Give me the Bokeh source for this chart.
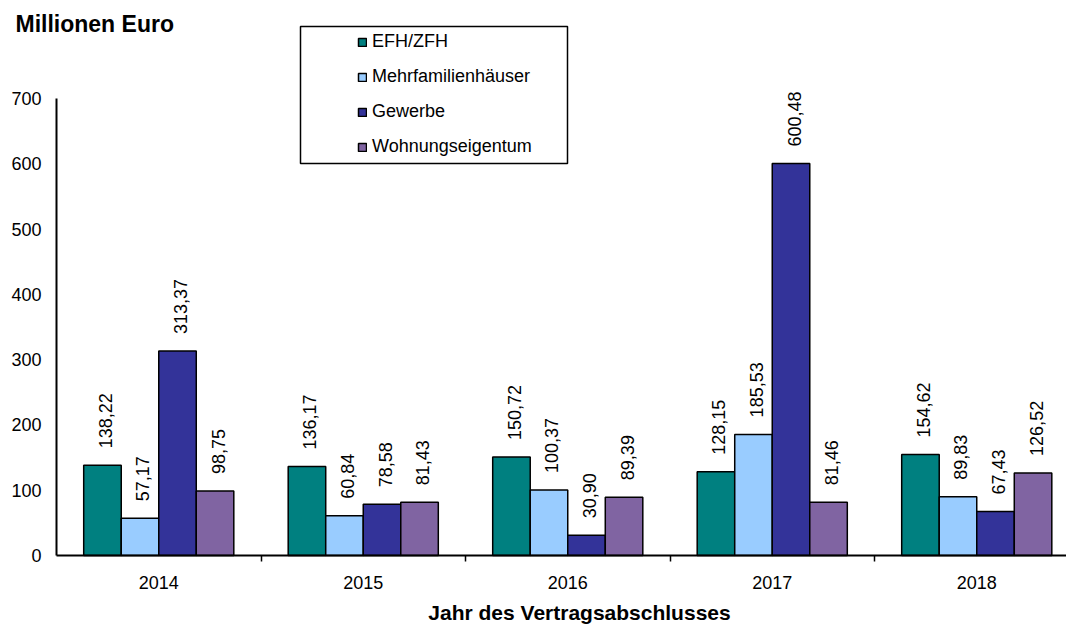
import math
from bokeh.plotting import figure
from bokeh.models import (ColumnDataSource, FixedTicker, LabelSet, Label, Legend,
                          LegendItem, BoxAnnotation, Range1d)
from bokeh.core.properties import value
from bokeh.embed import file_html
from bokeh.resources import INLINE

years = ["2014", "2015", "2016", "2017", "2018"]
series_names = ["EFH/ZFH", "Mehrfamilienhäuser", "Gewerbe", "Wohnungseigentum"]
efh_zfh = [138.22, 136.17, 150.72, 128.15, 154.62]
mehrfamilienhaeuser = [57.17, 60.84, 100.37, 185.53, 89.83]
gewerbe = [313.37, 78.58, 30.90, 600.48, 67.43]
wohnungseigentum = [98.75, 81.43, 89.39, 81.46, 126.52]
y_ticks = [0, 100, 200, 300, 400, 500, 600, 700]

series_values = [efh_zfh, mehrfamilienhaeuser, gewerbe, wohnungseigentum]
colors = ["#008080", "#99CCFF", "#333399", "#8064A2"]
FONT = "Liberation Sans"

W, H = 1066, 626
x0_px, cat_px = 56.0, 204.5          # pixel position of category boundary 0, category width
y0_px, px_per_unit = 555.0, 457.0 / 700.0
x_end = (W - x0_px) / cat_px

p = figure(width=W, height=H, output_backend="svg", toolbar_location=None, title=None,
           x_range=Range1d(-x0_px / cat_px, x_end),
           y_range=Range1d(-(H - y0_px) / px_per_unit, y0_px / px_per_unit),
           min_border=0, min_border_left=0, min_border_right=0,
           min_border_top=0, min_border_bottom=0)
p.outline_line_color = None
p.xgrid.grid_line_color = None
p.ygrid.grid_line_color = None
p.background_fill_color = "white"
p.border_fill_color = "white"

bar_w = 0.1835
offsets = [-1.5 * bar_w, -0.5 * bar_w, 0.5 * bar_w, 1.5 * bar_w]
centers = [i + 0.5 for i in range(len(years))]

renderers = []
for name, vals, col, off in zip(series_names, series_values, colors, offsets):
    src = ColumnDataSource(dict(
        x=[c + off for c in centers],
        top=vals,
        label=[f"{v:.2f}".replace(".", ",") for v in vals],
    ))
    r = p.vbar(x="x", top="top", width=bar_w, source=src, fill_color=col,
               line_color="black", line_width=1.5)
    renderers.append(r)
    ls = LabelSet(x="x", y="top", text="label", source=src, angle=math.pi / 2,
                  text_align="left", text_baseline="middle", y_offset=17, x_offset=3,
                  text_font=value(FONT), text_font_size=value("18px"), text_color="black")
    p.add_layout(ls)

# x axis
xa = p.xaxis[0]
xa.fixed_location = 0
xa.bounds = (0, x_end)
xa.ticker = FixedTicker(ticks=centers, minor_ticks=[1, 2, 3, 4])
xa.major_label_overrides = {c: y for c, y in zip(centers, years)}
xa.major_tick_line_color = None
xa.major_tick_out = 0
xa.major_tick_in = 0
xa.minor_tick_line_color = "black"
xa.minor_tick_line_width = 1.5
xa.minor_tick_out = 6
xa.minor_tick_in = 0
xa.major_label_standoff = 14
xa.major_label_text_font = FONT
xa.major_label_text_font_size = "18px"
xa.major_label_text_color = "black"
xa.axis_line_color = "black"
xa.axis_line_width = 2

# y axis
ya = p.yaxis[0]
ya.fixed_location = 0
ya.bounds = (0, 700)
ya.ticker = FixedTicker(ticks=y_ticks)
ya.major_tick_line_color = None
ya.minor_tick_line_color = None
ya.major_tick_out = 0
ya.major_tick_in = 0
ya.major_label_standoff = 15
ya.major_label_text_font = FONT
ya.major_label_text_font_size = "18px"
ya.major_label_text_color = "black"
ya.axis_line_color = "black"
ya.axis_line_width = 2

# titles
p.add_layout(Label(x=15, y=H - 23, x_units="screen", y_units="screen", text="Millionen Euro",
                   text_font=FONT, text_font_size="23px", text_font_style="bold",
                   text_align="left", text_baseline="middle", text_color="black"))
p.add_layout(Label(x=579, y=H - 612, x_units="screen", y_units="screen",
                   text="Jahr des Vertragsabschlusses",
                   text_font=FONT, text_font_size="21px", text_font_style="bold",
                   text_align="center", text_baseline="middle", text_color="black"))

# legend box
p.add_layout(BoxAnnotation(left=300, right=567, bottom=H - 163, top=H - 26,
                           left_units="screen", right_units="screen",
                           bottom_units="screen", top_units="screen",
                           fill_color="white", fill_alpha=1.0,
                           line_color="black", line_alpha=1.0, line_width=1.5,
                           level="annotation"))

legend = Legend(items=[LegendItem(label=n, renderers=[r]) for n, r in zip(series_names, renderers)],
                location=(357, H - 157), padding=0, margin=0, spacing=14,
                glyph_width=10, glyph_height=10, label_height=20, label_standoff=5,
                label_text_font=FONT, label_text_font_size="18px", label_text_color="black",
                border_line_color=None, background_fill_alpha=0.0)
p.add_layout(legend, "center")

open("out.html", "w").write(file_html(p, INLINE))
